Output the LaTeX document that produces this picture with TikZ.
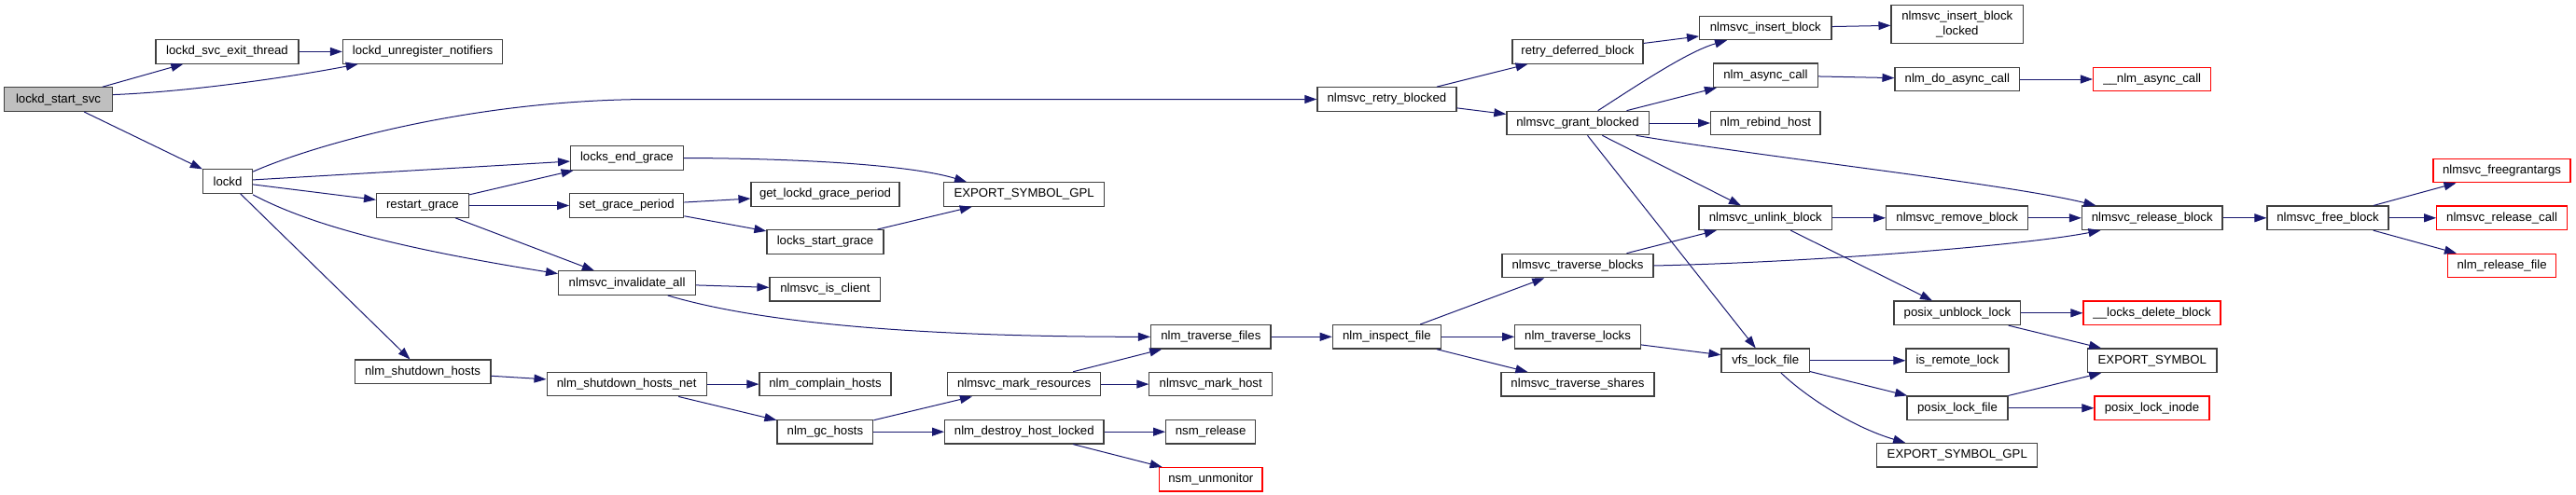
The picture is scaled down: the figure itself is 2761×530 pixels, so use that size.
\documentclass[tikz,border=0pt]{standalone}
\usepackage{fontspec}
\setmainfont{Liberation Sans}
\usetikzlibrary{arrows.meta}
\definecolor{edgecol}{HTML}{191970}
\definecolor{boxcol}{HTML}{404040}
\definecolor{redcol}{HTML}{FF0000}
\definecolor{rootfill}{HTML}{BFBFBF}
\begin{document}
\begin{tikzpicture}[x=1pt,y=-1pt,
  fn/.style={draw=boxcol, line width=1.2pt, inner sep=0pt, minimum height=25.5pt,
    font=\fontsize{13.2}{15.3}\selectfont, fill=white, align=center},
  rootfn/.style={fn, fill=rootfill},
  redfn/.style={fn, draw=redcol},
  edge/.style={draw=edgecol, line width=1pt, -{Triangle[length=13pt,width=9pt]}}]
\useasboundingbox (0,0) rectangle (2761,530);

% nodes
\node[rootfn, minimum width=116pt] (lss) at (62.5,106.6) {lockd\_start\_svc};
\node[fn, minimum width=153pt] (lset) at (243.5,55.4) {lockd\_svc\_exit\_thread};
\node[fn, minimum width=171.4pt] (lun) at (453.1,55.4) {lockd\_unregister\_notifiers};
\node[fn, minimum width=53pt] (lockd) at (244,194.5) {lockd};
\node[fn, minimum width=98.6pt] (rg) at (452.9,220.5) {restart\_grace};
\node[fn, minimum width=120.6pt] (leg) at (671.9,169.5) {locks\_end\_grace};
\node[fn, minimum width=122pt] (sgp) at (671.7,220.5) {set\_grace\_period};
\node[fn, minimum width=147pt] (nia) at (672.1,303.6) {nlmsvc\_invalidate\_all};
\node[fn, minimum width=145.6pt] (nsh) at (453.1,398.8) {nlm\_shutdown\_hosts};
\node[fn, minimum width=171.1pt] (nshn) at (671.65,412.1) {nlm\_shutdown\_hosts\_net};
\node[fn, minimum width=158.9pt] (glgp) at (884.5,208.5) {get\_lockd\_grace\_period};
\node[fn, minimum width=171.8pt] (esg) at (1097.6,208.5) {EXPORT\_SYMBOL\_GPL};
\node[fn, minimum width=125pt] (lsg) at (884.5,259.4) {locks\_start\_grace};
\node[fn, minimum width=118.8pt] (nic) at (884.4,310.2) {nlmsvc\_is\_client};
\node[fn, minimum width=128.5pt] (ntf) at (1297.8,361.3) {nlm\_traverse\_files};
\node[fn, minimum width=141pt] (nch) at (884.5,412.1) {nlm\_complain\_hosts};
\node[fn, minimum width=163.8pt] (nmr) at (1097.6,412.1) {nlmsvc\_mark\_resources};
\node[fn, minimum width=131.7pt] (nmh) at (1297.7,412.1) {nlmsvc\_mark\_host};
\node[fn, minimum width=102.8pt] (ngh) at (884.4,463.2) {nlm\_gc\_hosts};
\node[fn, minimum width=170.4pt] (ndhl) at (1097.8,463.2) {nlm\_destroy\_host\_locked};
\node[fn, minimum width=96pt] (nsr) at (1297.6,463.2) {nsm\_release};
\node[redfn, minimum width=110.5pt] (nsu) at (1297.8,514.3) {nsm\_unmonitor};

\node[fn, minimum width=149pt] (nrb) at (1486.4,106.5) {nlmsvc\_retry\_blocked};
\node[fn, minimum width=140pt] (rdb) at (1691,55.4) {retry\_deferred\_block};
\node[fn, minimum width=141.4pt] (nib) at (1892.3,29.9) {nlmsvc\_insert\_block};
\node[fn, minimum width=141.5pt, minimum height=40.4pt] (nibl) at (2097.8,26) {nlmsvc\_insert\_block\\\_locked};
\node[fn, minimum width=112pt] (nac) at (1892.4,80.8) {nlm\_async\_call};
\node[fn, minimum width=133.5pt] (ndac) at (2097.8,85) {nlm\_do\_async\_call};
\node[redfn, minimum width=126.3pt] (unac) at (2306.7,85) {\_\_nlm\_async\_call};
\node[fn, minimum width=152.2pt] (ngb) at (1691,132) {nlmsvc\_grant\_blocked};
\node[fn, minimum width=117.4pt] (nrh) at (1892.3,132) {nlm\_rebind\_host};
\node[fn, minimum width=142.6pt] (nub) at (1892.3,233.8) {nlmsvc\_unlink\_block};
\node[fn, minimum width=152.2pt] (nrmb) at (2097.7,233.8) {nlmsvc\_remove\_block};
\node[fn, minimum width=150.5pt] (nlrb) at (2306.7,233.8) {nlmsvc\_release\_block};
\node[fn, minimum width=130pt] (nfb) at (2495,233.8) {nlmsvc\_free\_block};
\node[redfn, minimum width=147pt] (nfga) at (2681.5,183) {nlmsvc\_freegrantargs};
\node[redfn, minimum width=139.7pt] (nrc) at (2681.6,233.8) {nlmsvc\_release\_call};
\node[redfn, minimum width=115.6pt] (nrf) at (2681.6,285) {nlm\_release\_file};
\node[fn, minimum width=162pt] (ntb) at (1691,285) {nlmsvc\_traverse\_blocks};
\node[fn, minimum width=135.8pt] (pul) at (2097.9,335.8) {posix\_unblock\_lock};
\node[redfn, minimum width=147pt] (ldb) at (2306.5,335.8) {\_\_locks\_delete\_block};
\node[fn, minimum width=116.1pt] (nif) at (1486.35,361.3) {nlm\_inspect\_file};
\node[fn, minimum width=134.4pt] (ntl) at (1691,361.3) {nlm\_traverse\_locks};
\node[fn, minimum width=94.5pt] (vfs) at (1892.25,386.75) {vfs\_lock\_file};
\node[fn, minimum width=110pt] (irl) at (2098,386.75) {is\_remote\_lock};
\node[fn, minimum width=138.3pt] (es) at (2306.85,386.75) {EXPORT\_SYMBOL};
\node[fn, minimum width=164pt] (nts) at (1691,412.3) {nlmsvc\_traverse\_shares};
\node[fn, minimum width=108pt] (plf) at (2098,437.75) {posix\_lock\_file};
\node[redfn, minimum width=123pt] (pli) at (2306.5,437.75) {posix\_lock\_inode};
\node[fn, minimum width=172pt] (esg2) at (2097.75,488.25) {EXPORT\_SYMBOL\_GPL};

% edges
\draw[edge] (lss) -- (lset);
\draw[edge] ([yshift=5pt]lss.east) .. controls (210,98) and (320,81) .. ([xshift=17pt]lun.south west);
\draw[edge] (lss) -- (lockd);
\draw[edge] (lset) -- (lun);
\draw[edge] ([yshift=-3pt]lockd.north east) .. controls (330,158) and (500,106.5) .. (700,106.5) -- (nrb.west);
\draw[edge] (lockd) -- (leg);
\draw[edge] (lockd) -- (rg);
\draw[edge] ([yshift=-1pt]lockd.south east) .. controls (330,240) and (420,265) .. ([yshift=10pt]nia.west);
\draw[edge] (lockd) -- (nsh);
\draw[edge] (rg) -- (leg);
\draw[edge] (rg) -- (sgp);
\draw[edge] (rg) -- (nia);
\draw[edge] (leg.east) .. controls (870,170) and (980,178) .. ([xshift=25pt]esg.north west);
\draw[edge] (sgp) -- (glgp);
\draw[edge] (sgp) -- (lsg);
\draw[edge] (lsg) -- (esg);
\draw[edge] (nia) -- (nic);
\draw[edge] ([xshift=43.6pt]nia.south) .. controls (800,342) and (950,361.3) .. (ntf.west);
\draw[edge] (nsh) -- (nshn);
\draw[edge] (nshn) -- (nch);
\draw[edge] (nshn) -- (ngh);
\draw[edge] (ngh) -- (nmr);
\draw[edge] (ngh) -- (ndhl);
\draw[edge] (nmr) -- (ntf);
\draw[edge] (nmr) -- (nmh);
\draw[edge] (ndhl) -- (nsr);
\draw[edge] (ndhl) -- (nsu);
\draw[edge] (ntf) -- (nif);
\draw[edge] (nrb) -- (rdb);
\draw[edge] (nrb) -- (ngb);
\draw[edge] (rdb) -- (nib);
\draw[edge] (nib) -- (nibl);
\draw[edge] ([xshift=21.7pt]ngb.north) .. controls (1760,88) and (1810,55) .. ([xshift=-41.3pt]nib.south);
\draw[edge] (ngb) -- (nac);
\draw[edge] (ngb) -- (nrh);
\draw[edge] ([xshift=-14.2pt]ngb.south east) .. controls (1900,170) and (2150,197) .. ([xshift=15.6pt]nlrb.north west);
\draw[edge] (ngb) -- (nub);
\draw[edge] (ngb) -- (vfs);
\draw[edge] (nac) -- (ndac);
\draw[edge] (ndac) -- (unac);
\draw[edge] (nub) -- (nrmb);
\draw[edge] (nub) -- (pul);
\draw[edge] (nrmb) -- (nlrb);
\draw[edge] (ntb) -- (nub);
\draw[edge] (ntb.east) .. controls (1950,281) and (2170,263) .. ([xshift=20.6pt]nlrb.south west);
\draw[edge] (nif) -- (ntb);
\draw[edge] (nif) -- (ntl);
\draw[edge] (nif) -- (nts);
\draw[edge] (ntl) -- (vfs);
\draw[edge] (vfs) -- (irl);
\draw[edge] (vfs) -- (plf);
\draw[edge] ([xshift=16.75pt]vfs.south) .. controls (1935,425) and (1985,458) .. ([xshift=31pt]esg2.north west);
\draw[edge] (pul) -- (ldb);
\draw[edge] (pul) -- (es);
\draw[edge] (plf) -- (es);
\draw[edge] (plf) -- (pli);
\draw[edge] (nlrb) -- (nfb);
\draw[edge] (nfb) -- (nfga);
\draw[edge] (nfb) -- (nrc);
\draw[edge] (nfb) -- (nrf);
\end{tikzpicture}
\end{document}
